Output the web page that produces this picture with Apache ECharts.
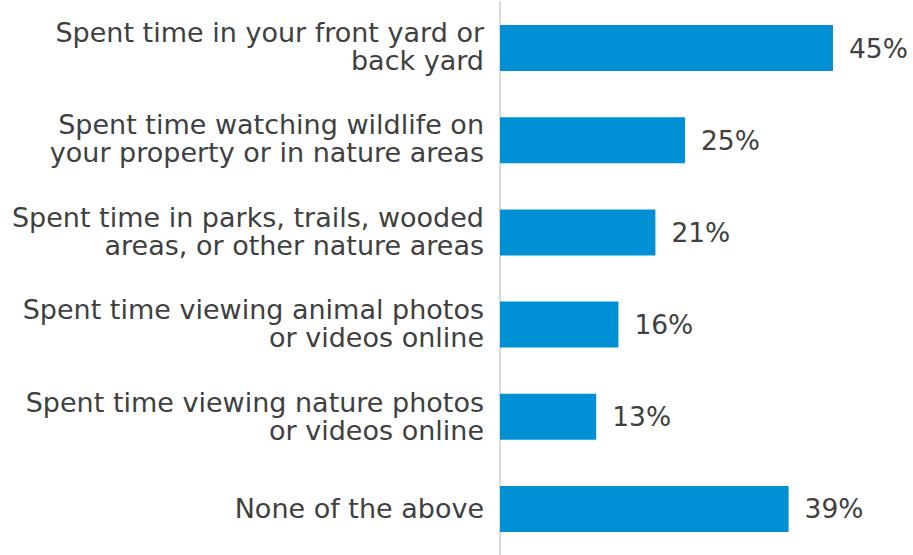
<!DOCTYPE html>
<html>
<head>
<meta charset="utf-8">
<script src="https://cdn.jsdelivr.net/npm/echarts@6/dist/echarts.min.js"></script>
<style>html,body{margin:0;padding:0;background:#fff}#c{width:913px;height:555px}</style>
</head>
<body>
<div id="c"></div>
<script>
var categories = [
  "Spent time in your front yard or\nback yard",
  "Spent time watching wildlife on\nyour property or in nature areas",
  "Spent time in parks, trails, wooded\nareas, or other nature areas",
  "Spent time viewing animal photos\nor videos online",
  "Spent time viewing nature photos\nor videos online",
  "None of the above"
];
var values = [45, 25, 21, 16, 13, 39];
var FONT = "DejaVu Sans";

var chart = echarts.init(document.getElementById('c'), null, { renderer: 'svg' });
chart.setOption({
  animation: false,
  grid: [
    { left: 500, top: 2, width: 407, height: 560 },
    { left: 500, top: -5, width: 407, height: 562 }
  ],
  xAxis: [
    { type: 'value', min: 0, max: 55, show: false, gridIndex: 0 },
    { type: 'value', min: 0, max: 55, show: false, gridIndex: 1 }
  ],
  yAxis: [
    {
      type: 'category', data: categories, inverse: true, gridIndex: 0,
      axisLine: { show: true, lineStyle: { color: '#d9d9d9', width: 2 } },
      axisTick: { show: false },
      axisLabel: { show: false }
    },
    {
      type: 'category', data: categories, inverse: true, gridIndex: 1,
      axisLine: { show: false },
      axisTick: { show: false },
      axisLabel: { color: '#404040', fontFamily: FONT, fontSize: 27, lineHeight: 28, margin: 16, align: 'right' }
    }
  ],
  series: [{
    type: 'bar', data: values, barWidth: 46, xAxisIndex: 0, yAxisIndex: 0,
    itemStyle: { color: '#0091D5' },
    label: { show: true, position: 'right', distance: 16, formatter: '{c}%', color: '#404040', fontFamily: FONT, fontSize: 26.5 }
  }]
});
</script>
</body>
</html>
